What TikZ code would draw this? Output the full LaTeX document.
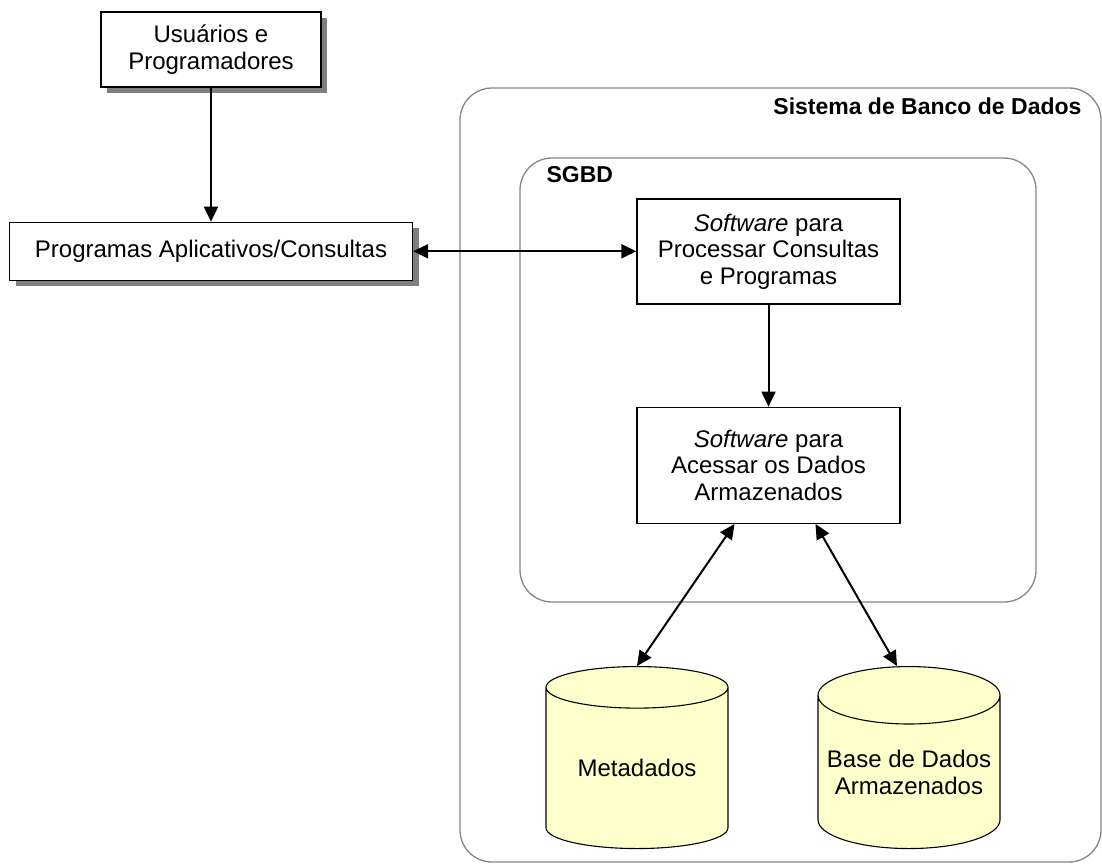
\documentclass[tikz,border=0pt]{standalone}
\usepackage{fontspec}
\setmainfont{Liberation Sans}
\usetikzlibrary{positioning,shapes.geometric,shadows,arrows.meta}
\definecolor{dbyellow}{HTML}{FFFFCC}
\definecolor{shadowgray}{HTML}{7F7F7F}
\definecolor{framegray}{HTML}{858585}

\tikzset{
  box/.style={draw=black, line width=1.3pt, fill=white, align=center, inner sep=0pt},
  shadowbox/.style={box, general shadow={fill=shadowgray, shadow xshift=6pt, shadow yshift=-6pt}},
  frame/.style={draw=framegray, line width=1.3pt, rounded corners=32pt, inner sep=0pt},
  frametitle/.style={font=\fontsize{23}{26}\selectfont\bfseries, inner sep=0pt},
  database/.style={cylinder, shape border rotate=90, aspect=0.35, draw=black, line width=1.1pt,
    cylinder uses custom fill, cylinder body fill=dbyellow, cylinder end fill=dbyellow,
    minimum width=182pt, minimum height=182pt, align=center, inner sep=0pt, anchor=north},
  link/.style={line width=2pt, -{Triangle[length=15pt,width=14pt]}},
  duplink/.style={line width=2pt, {Triangle[length=15pt,width=14pt]}-{Triangle[length=15pt,width=14pt]}},
}

\begin{document}
\begin{tikzpicture}[x=1pt, y=-1pt, font=\fontsize{24}{26.5}\selectfont]
\useasboundingbox (0,0) rectangle (1102,864);

	% containers
	\node[frame, minimum width=641pt, minimum height=774pt] (sistema) at (780.5,475) {};
	\node[frame, minimum width=516pt, minimum height=444pt] (sgbd) at (778,380) {};
	\node[frametitle, anchor=base east] at ([xshift=-20pt, yshift=-27pt]sistema.north east) {Sistema de Banco de Dados};
	\node[frametitle, anchor=base west] at ([xshift=27pt, yshift=-25pt]sgbd.north west) {SGBD};

	% users and applications
	\node[shadowbox, minimum width=220pt, minimum height=75pt] (usuarios) at (211,49.5) {Usuários e\\Programadores};
	\node[shadowbox, minimum width=403pt, minimum height=58pt, below=134pt of usuarios] (aplicativos) {Programas Aplicativos/Consultas};

	% DBMS software
	\node[box, minimum width=263pt, minimum height=105pt] (processar) at (768.5,251.5) {\textit{Software} para\\Processar Consultas\\e Programas};
	\node[box, minimum width=263pt, minimum height=116pt, below=102pt of processar] (acessar) {\textit{Software} para\\Acessar os Dados\\Armazenados};

	% stored data
	\node[database] (metadados) at (637,666) {Metadados};
	\node[database] (base) at (909,666) {Base de Dados\\Armazenados};

	\draw[link] (usuarios) -- (aplicativos);
	\draw[duplink] (aplicativos.east) -- (aplicativos.east -| processar.west);
	\draw[link] (processar) -- (acessar);
	\draw[duplink] ([xshift=-34pt]acessar.south) -- (metadados.north);
	\draw[duplink] ([xshift=47pt]acessar.south) -- ([xshift=-12pt]base.north);
\end{tikzpicture}
\end{document}
